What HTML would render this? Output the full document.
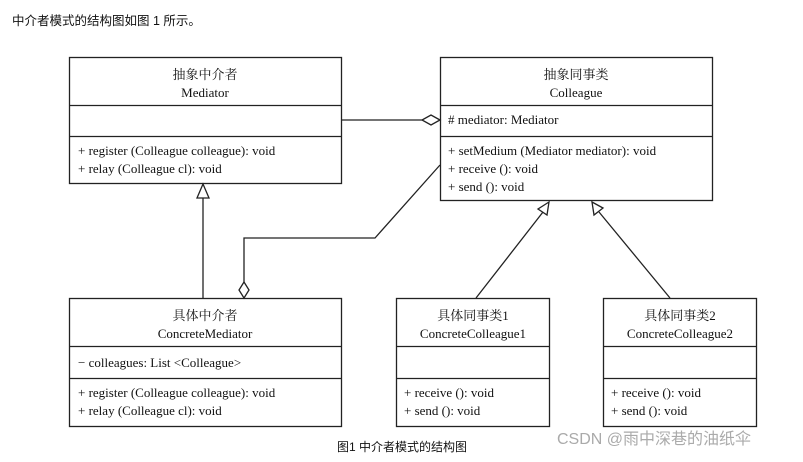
<!DOCTYPE html>
<html><head><meta charset="utf-8"><style>
body{margin:0;background:#fff;width:803px;height:457px;overflow:hidden}
svg text{font-family:"Liberation Serif","Noto Serif CJK SC",serif;font-size:13px;fill:#111}
.s{font-family:"Liberation Sans","Noto Sans CJK SC",sans-serif !important}
</style></head><body>
<svg width="803" height="457" xmlns="http://www.w3.org/2000/svg">
<text x="12" y="25" class="s" style="font-size:12.5px">中介者模式的结构图如图 1 所示。</text>
<g fill="none" stroke="#222" stroke-width="1.3">
<rect x="69.5" y="57.5" width="272" height="126"/>
<line x1="69" y1="105.5" x2="342" y2="105.5"/><line x1="69" y1="136.5" x2="342" y2="136.5"/>
<rect x="440.5" y="57.5" width="272" height="143"/>
<line x1="440" y1="105.5" x2="713" y2="105.5"/><line x1="440" y1="136.5" x2="713" y2="136.5"/>
<rect x="69.5" y="298.5" width="272" height="128"/>
<line x1="69" y1="346.5" x2="342" y2="346.5"/><line x1="69" y1="378.5" x2="342" y2="378.5"/>
<rect x="396.5" y="298.5" width="153" height="128"/>
<line x1="396" y1="346.5" x2="550" y2="346.5"/><line x1="396" y1="378.5" x2="550" y2="378.5"/>
<rect x="603.5" y="298.5" width="153" height="128"/>
<line x1="603" y1="346.5" x2="757" y2="346.5"/><line x1="603" y1="378.5" x2="757" y2="378.5"/>
<line x1="342" y1="120" x2="422" y2="120"/>
<polygon points="440,120 431,115 422,120 431,125" fill="#fff"/>
<line x1="203" y1="198" x2="203" y2="298"/>
<polygon points="203,184 197,198 209,198" fill="#fff"/>
<polyline points="244,282 244,238 375,238 440,165"/>
<polygon points="244,298 239,290 244,282 249,290" fill="#fff"/>
<line x1="476" y1="298" x2="543" y2="212"/>
<polygon points="549,202 538,209 547,215" fill="#fff"/>
<line x1="670" y1="298" x2="599" y2="212"/>
<polygon points="592,202 594,215 603,208" fill="#fff"/>
</g>
<g text-anchor="middle">
<text x="205" y="79">抽象中介者</text><text x="205" y="97">Mediator</text>
<text x="576" y="79">抽象同事类</text><text x="576" y="97">Colleague</text>
<text x="205" y="320">具体中介者</text><text x="205" y="338">ConcreteMediator</text>
<text x="473" y="320">具体同事类1</text><text x="473" y="338">ConcreteColleague1</text>
<text x="680" y="320">具体同事类2</text><text x="680" y="338">ConcreteColleague2</text>
</g>
<text x="78" y="155">+ register (Colleague colleague): void</text>
<text x="78" y="173">+ relay (Colleague cl): void</text>
<text x="448" y="124"># mediator: Mediator</text>
<text x="448" y="155">+ setMedium (Mediator mediator): void</text>
<text x="448" y="173">+ receive (): void</text>
<text x="448" y="191">+ send (): void</text>
<text x="78" y="367">− colleagues: List &lt;Colleague&gt;</text>
<text x="78" y="397">+ register (Colleague colleague): void</text>
<text x="78" y="415">+ relay (Colleague cl): void</text>
<text x="404" y="397">+ receive (): void</text>
<text x="404" y="415">+ send (): void</text>
<text x="611" y="397">+ receive (): void</text>
<text x="611" y="415">+ send (): void</text>
<text x="337" y="451" class="s" style="font-size:12px">图1 中介者模式的结构图</text>
<text x="557" y="444" class="s" style="font-size:16px;fill:#aaa">CSDN @雨中深巷的油纸伞</text>
</svg>
</body></html>
